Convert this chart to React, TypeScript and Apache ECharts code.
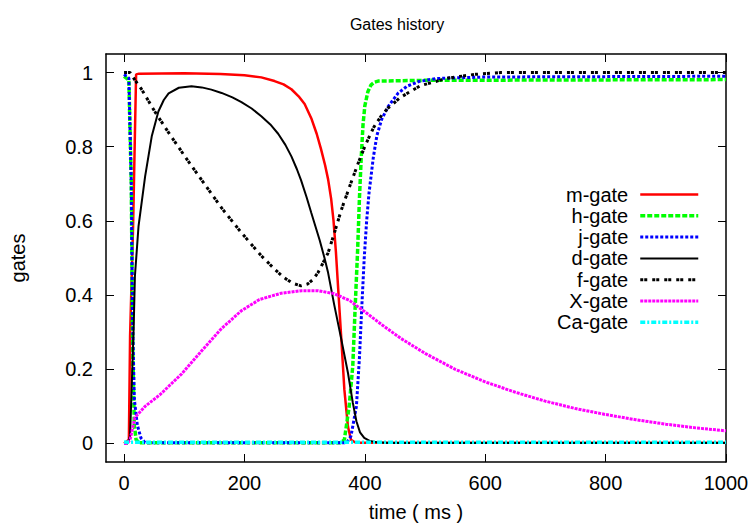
import React, { useEffect, useRef } from "react";
import * as echarts from "echarts";

const FONT = "'Liberation Sans', Arial, Helvetica, sans-serif";

const xTicks = [0, 200, 400, 600, 800, 1000];
const yTicks = [0, 0.2, 0.4, 0.6, 0.8, 1];

const seriesNames = ["m-gate", "h-gate", "j-gate", "d-gate", "f-gate", "X-gate", "Ca-gate"];

const mGate = [
  [0, 0], [8, 0.01], [10, 0.29], [15, 0.585], [20, 0.995], [25, 0.997], [100, 0.998],
  [160, 0.996], [200, 0.993], [228, 0.987], [250, 0.977], [265, 0.968], [278, 0.955],
  [290, 0.936], [300, 0.915], [311, 0.877], [320, 0.835], [327, 0.795], [334, 0.75],
  [339, 0.712], [344, 0.66], [348, 0.6], [352, 0.515], [356, 0.41], [361, 0.28],
  [366, 0.145], [372, 0.045], [377, 0.01], [385, 0.002], [1000, 0.002],
];

const hGate = [
  [0, 0.99], [8, 0.98], [12, 0.7], [14, 0.3], [17, 0.05], [20, 0.01], [25, 0.002],
  [360, 0.002], [366, 0.01], [374, 0.1], [380, 0.21], [384, 0.37], [388, 0.52],
  [391, 0.66], [394, 0.77], [397, 0.86], [400, 0.91], [405, 0.948], [410, 0.966],
  [416, 0.974], [422, 0.977], [500, 0.979], [1000, 0.981],
];

const jGate = [
  [0, 0.995], [8, 0.985], [12, 0.7], [14, 0.35], [17, 0.12], [22, 0.05], [28, 0.015],
  [35, 0.002], [370, 0.002], [377, 0.02], [386, 0.1], [391, 0.23], [395, 0.37],
  [399, 0.5], [403, 0.6], [407, 0.676], [414, 0.77], [420, 0.83], [428, 0.874],
  [439, 0.909], [455, 0.944], [470, 0.963], [490, 0.976], [520, 0.984], [600, 0.988],
  [1000, 0.99],
];

const dGate = [
  [0, 0], [6, 0], [10, 0.02], [16, 0.315], [18, 0.45], [24, 0.585], [35, 0.72],
  [46, 0.828], [57, 0.895], [66, 0.926], [74, 0.944], [91, 0.959], [112, 0.963],
  [129, 0.96], [145, 0.954], [162, 0.945], [180, 0.933], [195, 0.92], [212, 0.903],
  [228, 0.882], [243, 0.86], [256, 0.835], [268, 0.805], [278, 0.774], [287, 0.74],
  [294, 0.71], [303, 0.665], [311, 0.622], [318, 0.585], [325, 0.548], [333, 0.5],
  [339, 0.46], [349, 0.375], [361, 0.28], [372, 0.19], [380, 0.11], [386, 0.06],
  [392, 0.03], [399, 0.015], [408, 0.007], [420, 0.003], [440, 0.001], [1000, 0.001],
];

const fGate = [
  [0, 1], [10, 1], [18, 0.98], [29, 0.955], [51, 0.895], [74, 0.838], [101, 0.774],
  [129, 0.71], [162, 0.635], [195, 0.568], [228, 0.506], [250, 0.47], [265, 0.448],
  [280, 0.432], [294, 0.425], [305, 0.43], [314, 0.442], [322, 0.46], [330, 0.485],
  [339, 0.514], [348, 0.56], [361, 0.63], [377, 0.703], [390, 0.76], [401, 0.805],
  [415, 0.853], [428, 0.885], [439, 0.905], [460, 0.934], [493, 0.965], [538, 0.985],
  [582, 0.995], [626, 1.0], [1000, 1.0],
];

const xGate = [
  [0, 0], [5, 0], [10, 0.01], [18, 0.07], [35, 0.1], [60, 0.132], [96, 0.188],
  [129, 0.25], [162, 0.31], [195, 0.358], [225, 0.388], [261, 0.405], [295, 0.412],
  [322, 0.412], [349, 0.404], [375, 0.385], [400, 0.355], [430, 0.318], [460, 0.283],
  [500, 0.243], [550, 0.2], [600, 0.166], [650, 0.138], [700, 0.114], [750, 0.094],
  [800, 0.078], [850, 0.064], [900, 0.052], [950, 0.042], [1000, 0.034],
];

const caGate = [
  [0, 0.004], [10, 0.003], [100, 0.003], [500, 0.003], [1000, 0.003],
];

const seriesData = [mGate, hGate, jGate, dGate, fGate, xGate, caGate];
const seriesColors = ["#ff0000", "#00ff00", "#0000ff", "#000000", "#000000", "#ff00ff", "#00ffff"];
const seriesWidths = [2.5, 3.5, 3, 2, 3, 3, 3.5];
const seriesDash: any[] = ["solid", [5, 2], [3, 2], "solid", [3, 1, 3, 5], [3, 1], [5, 2, 2, 2]];

export default function App() {
  const ref = useRef<HTMLDivElement>(null);

  useEffect(() => {
    if (!ref.current) return;
    const chart = echarts.init(ref.current, null, { renderer: "svg" });

    const axisLine = { show: true, onZero: false, lineStyle: { color: "#000", width: 1.5 } };
    const tickStyle = { color: "#000", width: 1 };
    const labelStyle = { color: "#000", fontSize: 20, fontFamily: FONT };

    chart.setOption({
      animation: false,
      backgroundColor: "#fff",
      title: {
        text: "Gates history",
        left: 392,
        textAlign: "center",
        top: 11,
        textStyle: { fontSize: 16, fontWeight: "normal", color: "#000", fontFamily: FONT },
      },
      grid: { left: 104, right: 28, top: 54, bottom: 64, containLabel: false },
      legend: {
        orient: "vertical",
        right: 54,
        top: 184,
        padding: 0,
        align: "right",
        itemWidth: 58,
        itemHeight: 14,
        itemGap: 0.3,
        textStyle: { color: "#000", fontSize: 20, fontFamily: FONT, lineHeight: 21, padding: [0, 7, 0, 0] },
        data: seriesNames.map((n, i) => ({
          name: n,
          itemStyle: { opacity: 0 },
          lineStyle: { width: seriesWidths[i], type: seriesDash[i], color: seriesColors[i] },
        })),
      },
      xAxis: [
        {
          type: "value",
          min: -30,
          max: 1000,
          position: "bottom",
          axisLine,
          axisTick: { show: true, inside: true, length: 8, customValues: xTicks, lineStyle: tickStyle },
          axisLabel: { ...labelStyle, customValues: xTicks, margin: 11, formatter: (v: number) => String(v) },
          splitLine: { show: false },
          name: "time ( ms )",
          nameLocation: "middle",
          nameGap: 40,
          nameTextStyle: { ...labelStyle },
        },
        {
          type: "value",
          min: -30,
          max: 1000,
          position: "top",
          axisLine,
          axisTick: { show: true, inside: true, length: 8, customValues: xTicks, lineStyle: tickStyle },
          axisLabel: { show: false },
          splitLine: { show: false },
        },
      ],
      yAxis: [
        {
          type: "value",
          min: -0.05,
          max: 1.05,
          position: "left",
          axisLine,
          axisTick: { show: true, inside: true, length: 8, customValues: yTicks, lineStyle: tickStyle },
          axisLabel: {
            ...labelStyle,
            customValues: yTicks,
            margin: 13,
            formatter: (v: number) => String(v),
          },
          splitLine: { show: false },
          name: "gates",
          nameLocation: "middle",
          nameGap: 78,
          nameRotate: 90,
          nameTextStyle: { ...labelStyle },
        },
        {
          type: "value",
          min: -0.05,
          max: 1.05,
          position: "right",
          axisLine,
          axisTick: { show: true, inside: true, length: 8, customValues: yTicks, lineStyle: tickStyle },
          axisLabel: { show: false },
          splitLine: { show: false },
        },
      ],
      series: seriesNames.map((n, i) => ({
        name: n,
        type: "line",
        xAxisIndex: 0,
        yAxisIndex: 0,
        data: seriesData[i],
        symbol: "none",
        showSymbol: false,
        smooth: false,
        lineStyle: { color: seriesColors[i], width: seriesWidths[i], type: seriesDash[i] },
        itemStyle: { color: seriesColors[i] },
        emphasis: { disabled: true },
      })),
    });

    return () => chart.dispose();
  }, []);

  return <div ref={ref} style={{ width: 754, height: 527, position: "absolute", left: 0, top: 0 }} />;
}
